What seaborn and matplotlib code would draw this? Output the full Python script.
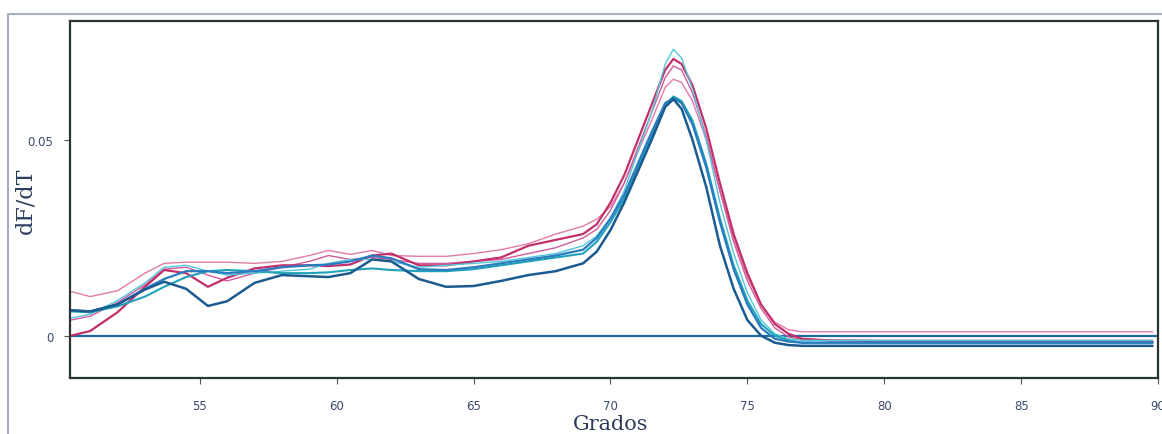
import matplotlib
matplotlib.use("Agg")
import matplotlib.pyplot as plt
import seaborn as sns
from matplotlib.patches import Rectangle

# Temperature grid (degrees)
temps = [50.3, 51, 52, 53, 53.7, 54.5, 55.3, 56, 57, 58, 59, 59.7, 60.5, 61.3, 62,
         63, 64, 65, 66, 67, 68, 69, 69.5, 70, 70.5, 71, 71.5, 72, 72.3, 72.6, 73, 73.5,
         74, 74.5, 75, 75.5, 76, 76.5, 77, 78, 80, 82.5, 85, 89.8]

crimson = [0.0000, 0.0012, 0.0060, 0.0125, 0.0168, 0.0160, 0.0125, 0.0148, 0.0172, 0.0180,
           0.0180, 0.0178, 0.0182, 0.0205, 0.0210, 0.0180, 0.0180, 0.0190, 0.0200, 0.0230,
           0.0245, 0.0260, 0.0285, 0.0340, 0.0410, 0.0500, 0.0590, 0.0680, 0.0708, 0.0695,
           0.0640, 0.0530, 0.0390, 0.0260, 0.0160, 0.0080, 0.0030, 0.0005, -0.0008, -0.0012,
           -0.0014, -0.0016, -0.0016, -0.0016]

pink = [0.0113, 0.0100, 0.0115, 0.0160, 0.0185, 0.0188, 0.0188, 0.0188, 0.0185, 0.0190,
        0.0205, 0.0218, 0.0208, 0.0218, 0.0205, 0.0203, 0.0203, 0.0210, 0.0220, 0.0235,
        0.0260, 0.0280, 0.0298, 0.0330, 0.0390, 0.0470, 0.0550, 0.0635, 0.0656, 0.0648,
        0.0600, 0.0500, 0.0370, 0.0250, 0.0150, 0.0080, 0.0035, 0.0015, 0.0010, 0.0010,
        0.0010, 0.0010, 0.0010, 0.0010]

magenta = [0.0040, 0.0050, 0.0085, 0.0130, 0.0170, 0.0175, 0.0155, 0.0140, 0.0160, 0.0175,
           0.0190, 0.0205, 0.0195, 0.0200, 0.0195, 0.0185, 0.0185, 0.0190, 0.0195, 0.0210,
           0.0225, 0.0250, 0.0272, 0.0320, 0.0390, 0.0480, 0.0570, 0.0660, 0.0690, 0.0680,
           0.0620, 0.0510, 0.0370, 0.0240, 0.0140, 0.0070, 0.0020, -0.0003, -0.0010, -0.0012,
           -0.0012, -0.0012, -0.0012, -0.0012]

cyan = [0.0045, 0.0055, 0.0090, 0.0135, 0.0175, 0.0180, 0.0165, 0.0155, 0.0160, 0.0165,
        0.0170, 0.0185, 0.0195, 0.0195, 0.0190, 0.0175, 0.0180, 0.0185, 0.0190, 0.0200,
        0.0210, 0.0230, 0.0255, 0.0300, 0.0370, 0.0470, 0.0570, 0.0695, 0.0733, 0.0710,
        0.0630, 0.0500, 0.0340, 0.0210, 0.0110, 0.0040, 0.0005, -0.0008, -0.0012, -0.0012,
        -0.0012, -0.0012, -0.0012, -0.0012]

teal = [0.0062, 0.0060, 0.0075, 0.0100, 0.0125, 0.0150, 0.0165, 0.0168, 0.0165, 0.0160,
        0.0160, 0.0162, 0.0168, 0.0172, 0.0168, 0.0165, 0.0165, 0.0170, 0.0180, 0.0190,
        0.0200, 0.0210, 0.0240, 0.0290, 0.0350, 0.0430, 0.0510, 0.0590, 0.0612, 0.0600,
        0.0550, 0.0440, 0.0300, 0.0180, 0.0090, 0.0030, 0.0000, -0.0012, -0.0018, -0.0018,
        -0.0018, -0.0018, -0.0018, -0.0018]

steel = [0.0065, 0.0062, 0.0080, 0.0120, 0.0145, 0.0165, 0.0165, 0.0160, 0.0165, 0.0175,
         0.0180, 0.0182, 0.0190, 0.0205, 0.0198, 0.0170, 0.0168, 0.0175, 0.0185, 0.0195,
         0.0205, 0.0220, 0.0250, 0.0300, 0.0360, 0.0440, 0.0520, 0.0595, 0.0608, 0.0595,
         0.0540, 0.0430, 0.0290, 0.0170, 0.0080, 0.0020, -0.0008, -0.0015, -0.0018, -0.0018,
         -0.0018, -0.0018, -0.0018, -0.0018]

darkblue = [0.0065, 0.0062, 0.0080, 0.0118, 0.0138, 0.0120, 0.0076, 0.0088, 0.0135, 0.0155,
            0.0152, 0.0150, 0.0160, 0.0195, 0.0190, 0.0145, 0.0125, 0.0127, 0.0140, 0.0155,
            0.0165, 0.0185, 0.0215, 0.0270, 0.0340, 0.0420, 0.0500, 0.0585, 0.0605, 0.0580,
            0.0500, 0.0380, 0.0230, 0.0120, 0.0040, 0.0000, -0.0018, -0.0024, -0.0026, -0.0026,
            -0.0026, -0.0026, -0.0026, -0.0026]

series = [
    ("pink", pink, "#e27aa8", 1.0),
    ("magenta", magenta, "#cf5b9b", 1.0),
    ("crimson", crimson, "#c2306a", 1.6),
    ("cyan", cyan, "#52c6da", 1.0),
    ("teal", teal, "#1fa3b8", 1.5),
    ("steel", steel, "#2a7cbf", 1.6),
    ("darkblue", darkblue, "#1c5b8f", 1.8),
]

xticks = [55, 60, 65, 70, 75, 80, 85, 90]
yticks = [0, 0.05]
yticklabels = ["0", "0.05"]

sns.set_theme(style="white")
fig = plt.figure(figsize=(11.62, 4.35), dpi=100)
ax = fig.add_axes([0.0602, 0.129, 0.9364, 0.8204])

ax.axhline(0, color="#1a6a9c", lw=1.6, zorder=1)
for name, vals, col, lw in series:
    sns.lineplot(x=temps, y=vals, color=col, lw=lw, ax=ax, sort=False,
                 estimator=None, zorder=2)

ax.set_xlim(50.26, 90)
ax.set_ylim(-0.0108, 0.0805)
ax.set_xticks(xticks)
ax.set_xticklabels([str(t) for t in xticks])
ax.set_yticks(yticks)
ax.set_yticklabels(yticklabels)
ax.tick_params(axis="both", which="both", direction="out", length=4, width=0.8,
               color="#555555", labelsize=8.5, labelcolor="#3b4a6e", pad=8,
               bottom=True, left=True)
ax.tick_params(axis="x", pad=11)

for sp in ax.spines.values():
    sp.set_color("#2a3434")
    sp.set_linewidth(1.6)

ax.set_xlabel("Grados", family="DejaVu Serif", fontsize=15, color="#2c3d5c")
ax.xaxis.set_label_coords(0.497, -0.1)
ax.set_ylabel("dF/dT", family="DejaVu Serif", fontsize=16, color="#2c3d5c")
ax.yaxis.set_label_coords(-0.031, 0.5)

# outer frame
fig.patches.append(Rectangle((8 / 1162, -0.02), 1.1, 0.9924 - 12 / 435 + 0.02,
                             transform=fig.transFigure, fill=False,
                             edgecolor="#a9afc2", lw=1.5))

fig.savefig("out.png", dpi=100)
